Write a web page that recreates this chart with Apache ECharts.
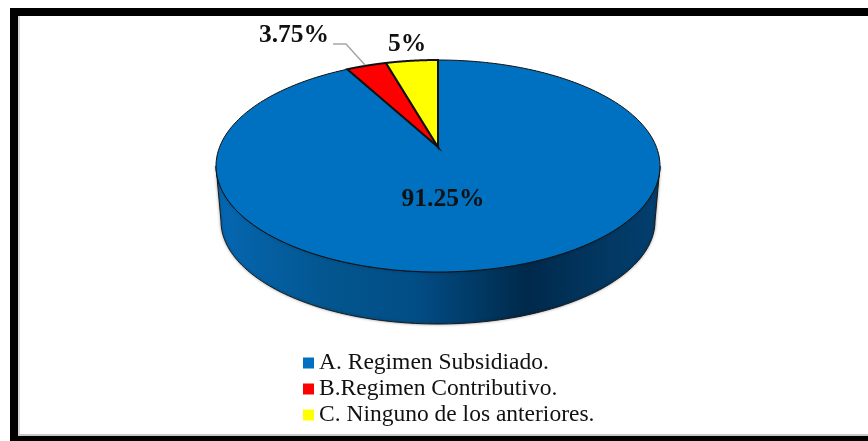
<!DOCTYPE html>
<html>
<head>
<meta charset="utf-8">
<title>Regimen</title>
<style>
  html, body { margin: 0; padding: 0; background: #fff; }
  #chart { width: 868px; height: 441px; }
</style>
<script src="https://cdn.jsdelivr.net/npm/echarts@6/dist/echarts.min.js"></script>
</head>
<body>
<div id="chart"></div>
<script>
const categories = ['A. Regimen Subsidiado.', 'B.Regimen Contributivo.', 'C. Ninguno de los anteriores.'];
const values = [91.25, 3.75, 5];
const valueLabels = ['91.25%', '3.75%', '5%'];
const colors = ['#0070c0', '#ff0000', '#ffff00'];

// the picture is a tilted pie, so the top face is an ellipse with the apex above its centre
const top_ = {cx: 438, cy: 166, rx: 222, ry: 106};
const bottom_ = {cx: 438, cy: 221, rx: 217, ry: 103};
const apex = {x: 438, y: 147};
const labelPos = [[443, 199], [294, 35], [407, 44]];
const leader = [[333, 44], [346, 44], [365, 65]];
const total = values.reduce((a, b) => a + b, 0);
const FONT = '"Liberation Serif", "Times New Roman", serif';

// where a ray from the apex at pie angle deg (clockwise from 12 o'clock) meets the rim
function rimPoint(deg) {
    const t = deg * Math.PI / 180;
    const ay = (apex.y - top_.cy) / top_.ry;
    const dx = Math.sin(t), dy = -1.1 * Math.cos(t);
    const a = dx * dx + dy * dy, b = 2 * ay * dy, c = ay * ay - 1;
    const s = (-b + Math.sqrt(b * b - 4 * a * c)) / (2 * a);
    return [top_.cx + dx * s * top_.rx, top_.cy + (ay + dy * s) * top_.ry];
}

function arc(e, from, to) {
    const pts = [];
    for (let i = 0; i <= 120; i++) {
        const t = (from + (to - from) * i / 120) * Math.PI / 180;
        pts.push([e.cx + e.rx * Math.cos(t), e.cy + e.ry * Math.sin(t)]);
    }
    return pts;
}

function renderSlice(params, api) {
    const i = params.seriesIndex;
    const start = values.slice(0, i).reduce((a, b) => a + b, 0) / total * 360;
    const end = start + api.value(0) / total * 360;
    const pts = [[apex.x, apex.y]];
    for (let k = 0; k <= 240; k++) {
        pts.push(rimPoint(start + (end - start) * k / 240));
    }
    const children = [];
    if (i === 0) {
        children.push({
            type: 'polygon',
            shape: {points: arc(top_, 180, 0).concat(arc(bottom_, 0, 180))},
            style: {
                fill: new echarts.graphic.LinearGradient(0, 0, 1, 0, [
                    {offset: 0, color: '#0567b2'},
                    {offset: 0.25, color: '#03568f'},
                    {offset: 0.45, color: '#024d86'},
                    {offset: 0.62, color: '#01355d'},
                    {offset: 0.7, color: '#00294b'},
                    {offset: 0.85, color: '#02365f'},
                    {offset: 1, color: '#033f70'}
                ]),
                stroke: '#1a1a1a',
                lineWidth: 1,
                shadowBlur: 3,
                shadowColor: 'rgba(0,0,0,0.35)'
            }
        });
    }
    children.push({
        type: 'polygon',
        shape: {points: pts},
        style: {fill: colors[i], stroke: '#111', lineWidth: i === 0 ? 1 : 2, lineJoin: 'miter'}
    });
    if (i === 1) {
        children.push({
            type: 'polyline',
            shape: {points: leader},
            style: {fill: null, stroke: '#a6a6a6', lineWidth: 1.5}
        });
    }
    children.push({
        type: 'text',
        z2: 10,
        style: {
            x: labelPos[i][0],
            y: labelPos[i][1],
            text: valueLabels[i],
            fill: '#111',
            font: 'bold 25.5px ' + FONT,
            align: 'center',
            verticalAlign: 'middle'
        }
    });
    return {type: 'group', children: children};
}

const chart = echarts.init(document.getElementById('chart'));
chart.setOption({
    animation: false,
    backgroundColor: '#fff',
    graphic: [
        {type: 'rect', shape: {x: 10, y: 8, width: 858, height: 8}, style: {fill: '#000'}},
        {type: 'rect', shape: {x: 10, y: 8, width: 8, height: 433}, style: {fill: '#000'}},
        {type: 'rect', shape: {x: 10, y: 436, width: 858, height: 5}, style: {fill: '#000'}},
        {type: 'rect', shape: {x: 18, y: 16, width: 2, height: 420}, style: {fill: '#d4d4d4'}},
        {type: 'rect', shape: {x: 18, y: 434, width: 850, height: 2}, style: {fill: '#c8c8c8'}}
    ],
    legend: {
        orient: 'vertical',
        left: 303,
        top: 351,
        padding: 0,
        itemWidth: 11,
        itemHeight: 11,
        itemGap: 2,
        selectedMode: false,
        icon: 'rect',
        data: categories,
        textStyle: {
            fontFamily: FONT,
            fontSize: 23.5,
            color: '#111',
            lineHeight: 23
        }
    },
    series: categories.map((name, i) => ({
        type: 'custom',
        name: name,
        coordinateSystem: 'none',
        itemStyle: {color: colors[i]},
        silent: true,
        renderItem: renderSlice,
        data: [[values[i]]]
    }))
});
</script>
</body>
</html>
